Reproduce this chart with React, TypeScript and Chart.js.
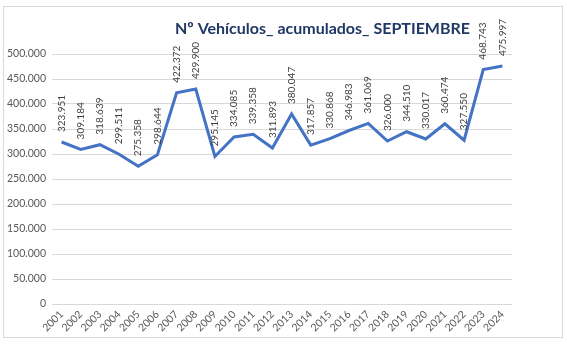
import React, { useEffect, useRef } from "react";
import { Chart, registerables } from "chart.js";

Chart.register(...registerables);

const years = ["2001","2002","2003","2004","2005","2006","2007","2008","2009","2010","2011","2012","2013","2014","2015","2016","2017","2018","2019","2020","2021","2022","2023","2024"];
const vehicles = [323951, 309184, 318639, 299511, 275358, 298644, 422372, 429900, 295145, 334085, 339358, 311893, 380047, 317857, 330868, 346983, 361069, 326000, 344510, 330017, 360474, 327550, 468743, 475997];
const titleText = "Nº Vehículos_ acumulados_ SEPTIEMBRE";
const yMin = 0;
const yMax = 500000;
const yStep = 50000;

const fmt = (n: number) => Math.round(n).toString().replace(/\B(?=(\d{3})+(?!\d))/g, ".");

const FONT = "Lato, 'Noto Sans', sans-serif";

const labelsPlugin = {
  id: "vertLabels",
  afterDatasetsDraw(chart: any) {
    const ctx = chart.ctx;
    const meta = chart.getDatasetMeta(0);
    ctx.save();
    ctx.font = `10px ${FONT}`;
    ctx.fillStyle = "#404040";
    ctx.textAlign = "left";
    ctx.textBaseline = "middle";
    meta.data.forEach((pt: any, i: number) => {
      ctx.save();
      ctx.translate(pt.x, pt.y - 10);
      ctx.rotate(-Math.PI / 2);
      ctx.fillText(fmt(vehicles[i]), 0, 0);
      ctx.restore();
    });
    ctx.restore();
  },
};

const titlePlugin = {
  id: "customTitle",
  afterDraw(chart: any) {
    const ctx = chart.ctx;
    const area = chart.chartArea;
    ctx.save();
    ctx.font = `bold 16px ${FONT}`;
    ctx.fillStyle = "#1F3864";
    ctx.textAlign = "right";
    ctx.textBaseline = "middle";
    ctx.fillText(titleText, area.right - 42, area.top - 25);
    ctx.restore();
  },
};

export default function App() {
  const ref = useRef<HTMLCanvasElement>(null);
  useEffect(() => {
    if (!ref.current) return;
    const chart = new Chart(ref.current, {
      type: "line",
      data: {
        labels: years,
        datasets: [
          {
            data: vehicles,
            borderColor: "#4472C4",
            backgroundColor: "#4472C4",
            borderWidth: 3,
            pointRadius: 0,
            tension: 0,
          },
        ],
      },
      options: {
        responsive: false,
        animation: false,
        layout: { padding: { top: 47, right: 50, left: 0, bottom: 0 } },
        plugins: { legend: { display: false }, title: { display: false }, tooltip: { enabled: false } },
        scales: {
          x: {
            offset: true,
            grid: { display: false, drawTicks: false },
            border: { display: false },
            ticks: {
              autoSkip: false,
              maxRotation: 45,
              minRotation: 45,
              color: "#595959",
              font: { family: FONT, size: 10.5 },
              padding: 4,
            },
            afterFit: (s: any) => { s.height = 33; },
          },
          y: {
            min: yMin,
            max: yMax,
            grid: { color: "#d9d9d9", drawTicks: false },
            border: { display: false },
            ticks: {
              stepSize: yStep,
              color: "#595959",
              font: { family: FONT, size: 10.5 },
              padding: 6,
              callback: (v: any) => fmt(Number(v)),
            },
            afterFit: (s: any) => { s.width = 48; },
          },
        },
      },
      plugins: [labelsPlugin, titlePlugin],
    });
    return () => chart.destroy();
  }, []);
  return (
    <div style={{ position: "absolute", left: 3, top: 6, width: 558, height: 330, border: "1px solid #d9d9d9", background: "#fff" }}>
      <canvas ref={ref} width={558} height={330} style={{ display: "block" }} />
    </div>
  );
}
